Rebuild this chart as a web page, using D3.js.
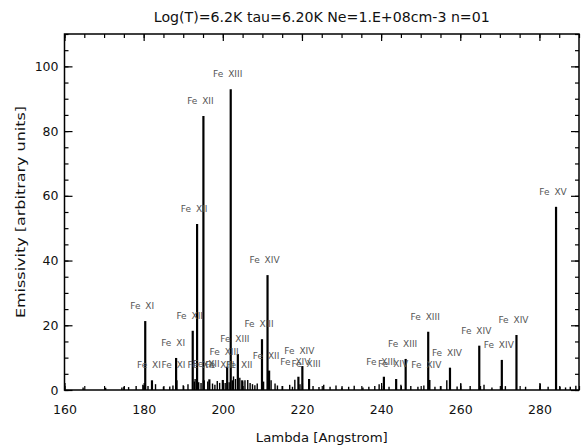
<!DOCTYPE html>
<html>
<head>
<meta charset="utf-8">
<script src="https://cdn.jsdelivr.net/npm/d3@7"></script>
<style>
  body { margin: 0; background: #fff; }
  text { font-family: "DejaVu Sans", sans-serif; }
</style>
</head>
<body>
<div id="chart"></div>
<script>
// labelled lines: wavelength (A), emissivity, ion
const lineLambda = [180.4, 182.1, 188.2, 188.3, 192.4, 193.5, 195.1, 195.2, 196.6,
  200.0, 201.1, 202.0, 203.8, 204.9, 209.9, 211.3, 211.7, 219.1, 220.1, 221.8,
  240.7, 243.8, 246.2, 251.9, 252.2, 257.4, 264.8, 270.5, 274.2, 284.2];
const lineEmis = [21.3, 3.0, 9.9, 3.0, 18.3, 51.3, 84.7, 3.0, 3.3,
  3.1, 7.2, 92.9, 11.1, 3.0, 15.7, 35.5, 6.0, 4.1, 7.4, 3.4,
  4.1, 3.4, 9.6, 18.0, 3.1, 6.9, 13.7, 9.3, 17.0, 56.6];
const lineIon = ['Fe XI', 'Fe XI', 'Fe XI', 'Fe XI', 'Fe XII', 'Fe XII', 'Fe XII', 'Fe XII', 'Fe XII',
  'Fe XIII', 'Fe XIII', 'Fe XIII', 'Fe XIII', 'Fe XII', 'Fe XIII', 'Fe XIV', 'Fe XII', 'Fe XIV', 'Fe XIV', 'Fe XIII',
  'Fe XIII', 'Fe XIV', 'Fe XIII', 'Fe XIII', 'Fe XIV', 'Fe XIV', 'Fe XIV', 'Fe XIV', 'Fe XIV', 'Fe XV'];

// weak unlabelled lines
const weakLambda = [164.7, 170.4, 174.5, 175.0, 176.2, 178.1, 179.8, 180.1, 181.1, 183.0,
  185.0, 186.6, 187.4, 190.0, 191.2, 192.8, 193.0, 193.9, 194.5, 196.2, 197.4, 198.0,
  198.6, 199.2, 200.6, 201.6, 202.4, 202.7, 203.2, 204.3, 205.0, 205.6, 206.3, 206.9,
  207.5, 208.1, 208.7, 210.3, 212.2, 213.2, 213.8, 215.0, 216.9, 217.6, 218.2, 219.5,
  222.8, 224.3, 225.5, 227.1, 228.6, 230.1, 231.8, 233.2, 235.4, 236.9, 238.4, 239.5,
  242.0, 245.0, 247.5, 249.3, 250.8, 253.6, 255.0, 256.6, 259.2, 260.1, 262.5, 266.0,
  268.0, 271.4, 276.5, 280.2, 282.2, 285.2, 286.6, 287.8, 289.2];
const weakEmis = [0.8, 0.7, 0.8, 1.0, 0.9, 1.2, 1.6, 1.5, 1.2, 1.8,
  1.0, 1.1, 1.4, 1.5, 1.8, 2.6, 3.4, 2.4, 2.2, 2.6, 2.0, 1.6,
  2.8, 2.2, 2.2, 2.4, 3.0, 4.2, 3.4, 3.8, 2.6, 3.0, 3.1, 2.2,
  1.8, 1.5, 2.0, 2.6, 3.0, 2.0, 1.4, 1.2, 1.6, 1.0, 3.2, 1.8,
  1.2, 0.9, 1.6, 1.0, 1.4, 0.8, 1.0, 1.3, 0.8, 1.0, 1.2, 1.8,
  1.0, 1.6, 1.2, 1.0, 1.4, 1.0, 1.2, 3.0, 1.1, 1.9, 1.2, 1.6,
  0.8, 1.2, 1.0, 1.9, 1.0, 1.0, 0.8, 1.0, 1.3];

const xTicks = [160, 180, 200, 220, 240, 260, 280];
const yTicks = [0, 20, 40, 60, 80, 100];
const title = 'Log(T)=6.2K tau=6.20K Ne=1.E+08cm-3 n=01';

const W = 581, H = 447;
const margin = {top: 34, right: 2, bottom: 57, left: 64.5};

const svg = d3.select('#chart').append('svg')
  .attr('width', W).attr('height', H);

const x = d3.scaleLinear().domain([160, 290]).range([margin.left, W - margin.right]);
const y = d3.scaleLinear().domain([0, 110]).range([H - margin.bottom, margin.top]);

const minorX = d3.range(160, 291, 5);
const minorY = d3.range(0, 111, 5);

// spectral lines
const weak = weakLambda.map((l, i) => ({l: l, e: weakEmis[i]}));
const strong = lineLambda.map((l, i) => ({l: l, e: lineEmis[i], ion: lineIon[i]}));

svg.append('g').selectAll('line').data(weak).join('line')
  .attr('x1', d => x(d.l)).attr('x2', d => x(d.l))
  .attr('y1', y(0)).attr('y2', d => y(d.e))
  .attr('stroke', '#000').attr('stroke-width', 1.4);

svg.append('g').selectAll('line').data(strong).join('line')
  .attr('x1', d => x(d.l)).attr('x2', d => x(d.l))
  .attr('y1', y(0)).attr('y2', d => y(d.e))
  .attr('stroke', '#000').attr('stroke-width', 2.2);

svg.append('g').selectAll('text').data(strong).join('text')
  .attr('x', d => x(d.l) - 3)
  .attr('y', d => y(d.e) - 12)
  .attr('text-anchor', 'middle')
  .attr('font-size', 9)
  .attr('word-spacing', 2)
  .attr('fill', '#555')
  .text(d => d.ion);

// axes, ticks pointing inward
const ax = (gen, tx) => svg.append('g').attr('transform', tx).call(gen)
  .call(g => g.select('.domain').remove())
  .call(g => g.selectAll('line').attr('stroke', '#000').attr('stroke-width', 1.2));

ax(d3.axisBottom(x).tickValues(xTicks).tickSize(-7).tickPadding(15).tickFormat(d3.format('d')), `translate(0,${y(0)})`)
  .selectAll('text').attr('font-size', 12.5).attr('fill', '#111');
ax(d3.axisBottom(x).tickValues(minorX).tickSize(-4).tickFormat(''), `translate(0,${y(0)})`);
ax(d3.axisTop(x).tickValues(xTicks).tickSize(-7).tickFormat(''), `translate(0,${y(110)})`);
ax(d3.axisTop(x).tickValues(minorX).tickSize(-4).tickFormat(''), `translate(0,${y(110)})`);

ax(d3.axisLeft(y).tickValues(yTicks).tickSize(-8).tickPadding(6).tickFormat(d3.format('d')), `translate(${x(160)},0)`)
  .selectAll('text').attr('font-size', 12.5).attr('fill', '#111');
ax(d3.axisLeft(y).tickValues(minorY).tickSize(-4).tickFormat(''), `translate(${x(160)},0)`);
ax(d3.axisRight(y).tickValues(yTicks).tickSize(-8).tickFormat(''), `translate(${x(290)},0)`);
ax(d3.axisRight(y).tickValues(minorY).tickSize(-4).tickFormat(''), `translate(${x(290)},0)`);

svg.append('rect')
  .attr('x', x(160)).attr('y', y(110))
  .attr('width', x(290) - x(160)).attr('height', y(0) - y(110))
  .attr('fill', 'none').attr('stroke', '#000').attr('stroke-width', 1.5);

// titles
svg.append('text')
  .attr('x', (x(160) + x(290)) / 2).attr('y', 22)
  .attr('text-anchor', 'middle').attr('font-size', 13.5).attr('fill', '#111')
  .attr('textLength', 336).attr('lengthAdjust', 'spacingAndGlyphs')
  .text(title);

svg.append('text')
  .attr('x', (x(160) + x(290)) / 2).attr('y', 442)
  .attr('text-anchor', 'middle').attr('font-size', 13).attr('fill', '#111')
  .attr('textLength', 132).attr('lengthAdjust', 'spacingAndGlyphs')
  .text('Lambda [Angstrom]');

svg.append('text')
  .attr('transform', `translate(25,${(y(0) + y(110)) / 2}) rotate(-90)`)
  .attr('text-anchor', 'middle').attr('font-size', 13).attr('fill', '#111')
  .attr('textLength', 212).attr('lengthAdjust', 'spacingAndGlyphs')
  .text('Emissivity [arbitrary units]');
</script>
</body>
</html>
